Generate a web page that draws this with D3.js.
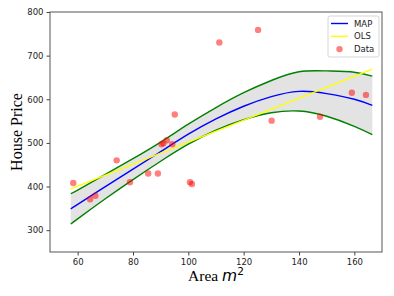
<!DOCTYPE html>
<html>
<head>
<meta charset="utf-8">
<script src="https://cdn.jsdelivr.net/npm/d3@7"></script>
<style>
  body { margin: 0; background: #fff; }
  svg { display: block; }
</style>
</head>
<body>
<script>
// observed data points (area, price)
var areas  = [58.4, 64.5, 66.4, 74.1, 78.9, 85.5, 89.0, 90.3, 91.0, 92.2, 94.2, 95.1, 100.6, 101.3, 111.2, 125.2, 130.1, 147.6, 159.1, 164.2];
var prices = [408, 371, 379, 460, 410, 430, 430, 497, 499, 506, 497, 565, 410, 406, 730, 759, 551, 560, 615, 610];

// fitted curves
var gridX  = [57.5, 60, 70, 80, 90, 100, 110, 120, 130, 140, 150, 160, 166.5];
var mapY   = [349, 359, 400, 440, 480, 520, 555, 584, 606, 618, 613, 600, 586];
var upperY = [384, 392, 428, 464, 502, 543, 581, 615, 643, 663, 665, 662, 653];
var lowerY = [314, 326, 372, 416, 458, 497, 529, 553, 569, 573, 561, 538, 519];
var olsX   = [57.5, 166.5];
var olsY   = [394.7, 669];

var xTicks = [60, 80, 100, 120, 140, 160];
var yTicks = [300, 400, 500, 600, 700, 800];

window.onload = function(){
	var w = 394, h = 296;
	var left = 50, right = 382, top = 12, bottom = 252;

	var svg = d3.select("body").append("svg")
		.attr("width", w)
		.attr("height", h);

	var x = d3.scaleLinear().domain([50, 170]).range([left, right]);
	var y = d3.scaleLinear().domain([250, 800]).range([bottom, top]);

	// shaded band between the two green curves
	var band = gridX.map(function(d, i){ return {x: d, lo: lowerY[i], hi: upperY[i], m: mapY[i]}; });
	svg.append("path")
		.datum(band)
		.attr("d", d3.area()
			.x(function(d){ return x(d.x); })
			.y0(function(d){ return y(d.lo); })
			.y1(function(d){ return y(d.hi); })
			.curve(d3.curveNatural))
		.style("fill", "#e3e3e3");

	var line = function(key){
		return d3.line()
			.x(function(d){ return x(d.x); })
			.y(function(d){ return y(d[key]); })
			.curve(d3.curveNatural);
	};
	svg.append("path").datum(band).attr("d", line("hi"))
		.style("fill", "none").style("stroke", "green").style("stroke-width", 1.4);
	svg.append("path").datum(band).attr("d", line("lo"))
		.style("fill", "none").style("stroke", "green").style("stroke-width", 1.4);
	svg.append("path").datum(band).attr("d", line("m"))
		.style("fill", "none").style("stroke", "blue").style("stroke-width", 1.4);

	// OLS line
	svg.append("line")
		.attr("x1", x(olsX[0])).attr("y1", y(olsY[0]))
		.attr("x2", x(olsX[1])).attr("y2", y(olsY[1]))
		.style("stroke", "yellow").style("stroke-width", 1.4);

	// data points
	svg.selectAll(".dot")
		.data(areas)
		.enter()
		.append("circle")
		.attr("class", "dot")
		.attr("cx", function(d){ return x(d); })
		.attr("cy", function(d, i){ return y(prices[i]); })
		.attr("r", 3.2)
		.style("fill", "red")
		.style("fill-opacity", 0.5);

	// axes
	var xAxis = svg.append("g")
		.attr("transform", "translate(0," + bottom + ")")
		.call(d3.axisBottom(x).tickValues(xTicks).tickSize(3.5).tickPadding(3));
	var yAxis = svg.append("g")
		.attr("transform", "translate(" + left + ",0)")
		.call(d3.axisLeft(y).tickValues(yTicks).tickSize(3.5).tickPadding(3));
	[xAxis, yAxis].forEach(function(g){
		g.select(".domain").remove();
		g.selectAll("text").style("font-family", "DejaVu Sans").style("font-size", "8.5px").style("fill", "#222");
		g.selectAll("line").style("stroke", "#444");
	});

	// frame
	svg.append("rect")
		.attr("x", left).attr("y", top)
		.attr("width", right - left).attr("height", bottom - top)
		.style("fill", "none").style("stroke", "#555").style("stroke-width", 1);

	// axis labels
	svg.append("text")
		.attr("transform", "translate(22," + ((top + bottom) / 2) + ") rotate(-90)")
		.attr("text-anchor", "middle")
		.style("font-family", "Liberation Serif")
		.style("font-size", "16px")
		.text("House Price");

	var xl = svg.append("text")
		.attr("x", (left + right) / 2)
		.attr("y", 281)
		.attr("text-anchor", "middle")
		.style("font-family", "Liberation Serif")
		.style("font-size", "15.5px");
	xl.append("tspan").text("Area ");
	xl.append("tspan").style("font-family", "DejaVu Sans").style("font-style", "italic").text("m");
	xl.append("tspan").attr("dy", -6).style("font-family", "DejaVu Sans").style("font-size", "10.5px").text("2");

	// legend
	var lg = svg.append("g").attr("transform", "translate(328,16)");
	lg.append("rect")
		.attr("width", 51).attr("height", 41).attr("rx", 2)
		.style("fill", "#fff").style("stroke", "#ccc").style("stroke-width", 0.8);
	var items = [
		{label: "MAP", color: "blue", kind: "line"},
		{label: "OLS", color: "yellow", kind: "line"},
		{label: "Data", color: "red", kind: "dot"}
	];
	items.forEach(function(d, i){
		var yy = 7.5 + i * 12.8;
		if (d.kind == "line") {
			lg.append("line").attr("x1", 3).attr("x2", 20).attr("y1", yy).attr("y2", yy)
				.style("stroke", d.color).style("stroke-width", 1.4);
		} else {
			lg.append("circle").attr("cx", 11.5).attr("cy", yy).attr("r", 3.2)
				.style("fill", d.color).style("fill-opacity", 0.5);
		}
		lg.append("text").attr("x", 26).attr("y", yy + 3)
			.style("font-family", "DejaVu Sans").style("font-size", "8.5px").style("fill", "#222")
			.text(d.label);
	});
};
</script>
</body>
</html>
